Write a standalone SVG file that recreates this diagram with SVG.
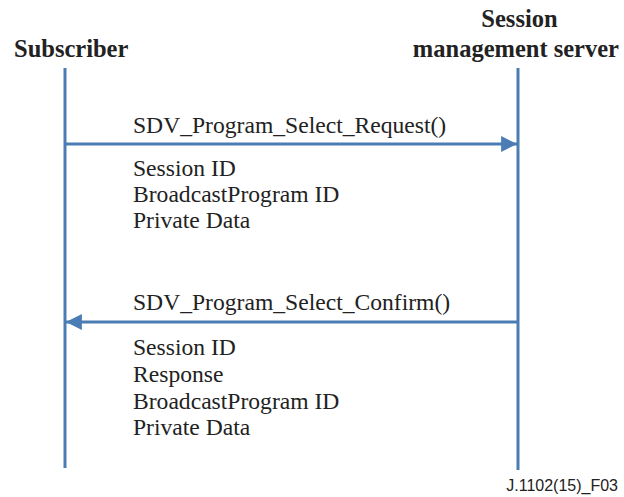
<svg xmlns="http://www.w3.org/2000/svg" width="624" height="497" viewBox="0 0 624 497">
  <style>
    .life { stroke: #4a7db3; stroke-width: 3; fill: none; }
    .msg { stroke: #4a7db3; stroke-width: 3; fill: none; }
    .actor { font-family: "Liberation Serif", serif; font-weight: bold; font-size: 24.5px; fill: #222; }
    .lbl { font-family: "Liberation Serif", serif; font-size: 23.6px; fill: #222; }
    .foot { font-family: "Liberation Sans", sans-serif; font-size: 16px; fill: #222; }
  </style>
  <defs>
    <marker id="head" viewBox="0 0 10 10" refX="10" refY="5" markerWidth="6.7" markerHeight="5.3" markerUnits="strokeWidth" orient="auto">
      <path d="M0,0 L10,5 L0,10 Z" fill="#4a7db3"/>
    </marker>
  </defs>
  <rect width="624" height="497" fill="#fff"/>

  <g id="subscriber">
    <text class="actor" x="14" y="57">Subscriber</text>
    <line class="life" x1="65" y1="68" x2="65" y2="468"/>
  </g>

  <g id="server">
    <text class="actor" x="519.5" y="27" text-anchor="middle">Session</text>
    <text class="actor" x="619" y="57" text-anchor="end">management server</text>
    <line class="life" x1="518" y1="68" x2="518" y2="470"/>
  </g>

  <g id="connectors">
    <line class="msg" x1="65" y1="144" x2="517" y2="144" marker-end="url(#head)"/>
    <line class="msg" x1="518" y1="322" x2="66" y2="322" marker-end="url(#head)"/>
  </g>

  <g id="request">
    <text class="lbl" x="133" y="133">SDV_Program_Select_Request()</text>
    <text class="lbl" x="133" y="176">Session ID</text>
    <text class="lbl" x="133" y="202">BroadcastProgram ID</text>
    <text class="lbl" x="133" y="228">Private Data</text>
  </g>

  <g id="confirm">
    <text class="lbl" x="133" y="310">SDV_Program_Select_Confirm()</text>
    <text class="lbl" x="133" y="355">Session ID</text>
    <text class="lbl" x="133" y="382">Response</text>
    <text class="lbl" x="133" y="409">BroadcastProgram ID</text>
    <text class="lbl" x="133" y="435">Private Data</text>
  </g>

  <text class="foot" x="618" y="491" text-anchor="end">J.1102(15)_F03</text>
</svg>
